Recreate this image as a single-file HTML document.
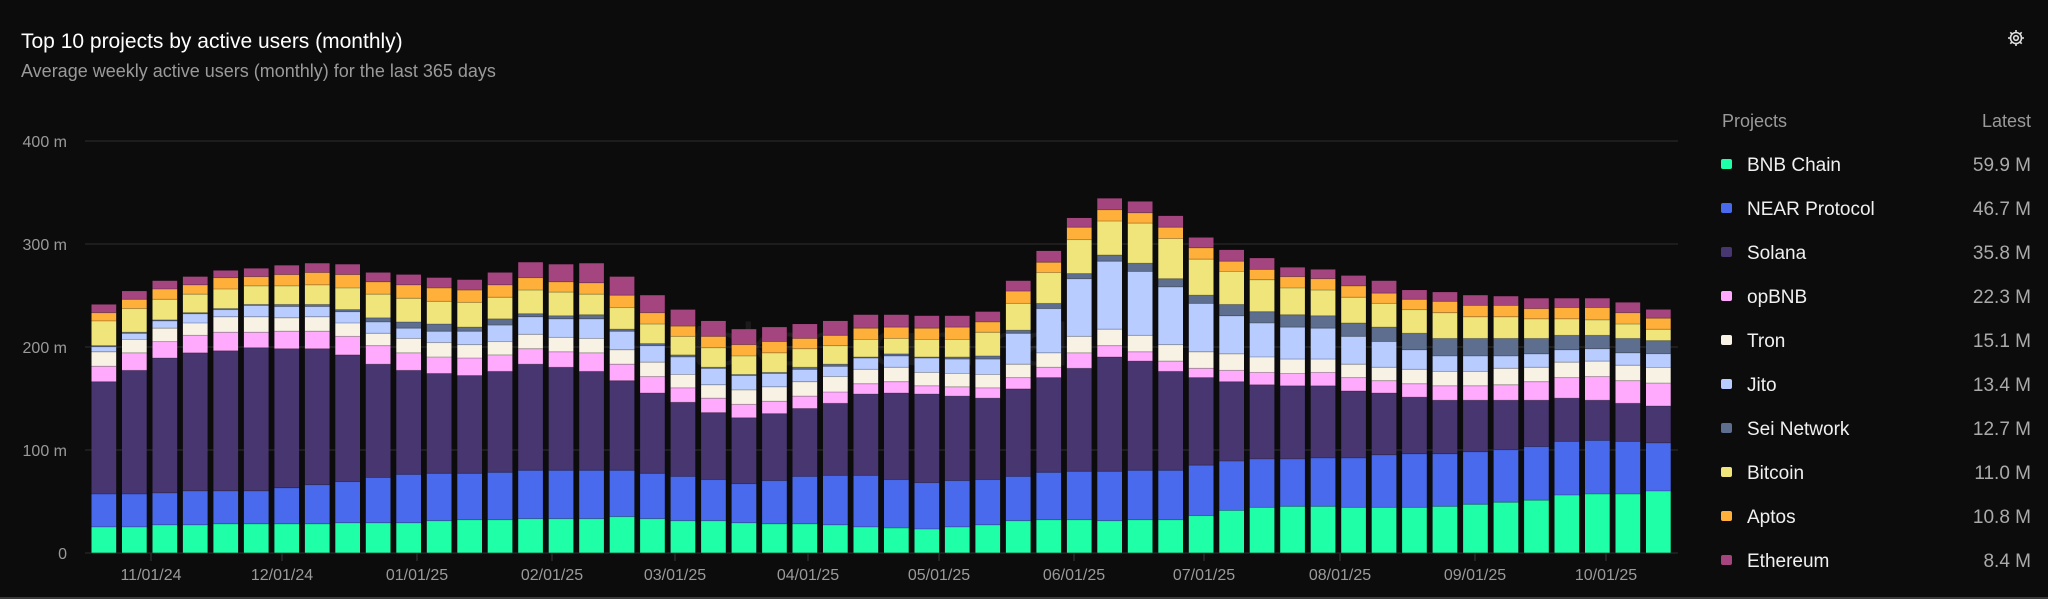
<!DOCTYPE html>
<html><head><meta charset="utf-8"><style>
html,body{margin:0;padding:0;background:#0c0c0c;width:2048px;height:599px;overflow:hidden;font-family:"Liberation Sans",sans-serif}
svg{position:absolute;left:0;top:0}
</style></head><body>
<svg id="s" width="2048" height="599" xmlns="http://www.w3.org/2000/svg">
<rect width="2048" height="599" fill="#0c0c0c"/>
<text x="21" y="48" font-size="21" fill="#ffffff" font-family="Liberation Sans, sans-serif">Top 10 projects by active users (monthly)</text>
<text x="21" y="77" font-size="18" fill="#9a9a9a" font-family="Liberation Sans, sans-serif">Average weekly active users (monthly) for the last 365 days</text>
<g id="grid" stroke="#232323" stroke-width="1.5">
<line x1="85" x2="1678" y1="141" y2="141"/><line x1="85" x2="1678" y1="244" y2="244"/><line x1="85" x2="1678" y1="347" y2="347"/><line x1="85" x2="1678" y1="450" y2="450"/><line x1="85" x2="1678" y1="553" y2="553"/>
</g>
<g font-size="16" fill="#9a9a9a" text-anchor="end" font-family="Liberation Sans, sans-serif">
<text x="67" y="147">400 m</text><text x="67" y="250">300 m</text><text x="67" y="353">200 m</text><text x="67" y="456">100 m</text><text x="67" y="559">0</text>
</g>
<text x="880" y="365" font-size="60" fill="#ffffff" opacity="0.06" text-anchor="middle" font-family="Liberation Sans, sans-serif">token terminal</text>
<g id="bars"></g>
<g stroke="#2a2a2a" stroke-width="1.5">
<line x1="151" x2="151" y1="553" y2="561"/><line x1="282" x2="282" y1="553" y2="561"/><line x1="417" x2="417" y1="553" y2="561"/><line x1="552" x2="552" y1="553" y2="561"/><line x1="675" x2="675" y1="553" y2="561"/><line x1="808" x2="808" y1="553" y2="561"/><line x1="939" x2="939" y1="553" y2="561"/><line x1="1074" x2="1074" y1="553" y2="561"/><line x1="1204" x2="1204" y1="553" y2="561"/><line x1="1340" x2="1340" y1="553" y2="561"/><line x1="1475" x2="1475" y1="553" y2="561"/><line x1="1606" x2="1606" y1="553" y2="561"/>
</g>
<g font-size="16" fill="#9a9a9a" text-anchor="middle" font-family="Liberation Sans, sans-serif">
<text x="151" y="580">11/01/24</text><text x="282" y="580">12/01/24</text><text x="417" y="580">01/01/25</text><text x="552" y="580">02/01/25</text><text x="675" y="580">03/01/25</text><text x="808" y="580">04/01/25</text><text x="939" y="580">05/01/25</text><text x="1074" y="580">06/01/25</text><text x="1204" y="580">07/01/25</text><text x="1340" y="580">08/01/25</text><text x="1475" y="580">09/01/25</text><text x="1606" y="580">10/01/25</text>
</g>
<g transform="translate(2016,38)" fill="none" stroke="#e0e0e0" stroke-width="1.6">
<circle r="5.5"/><circle r="2.3"/>
<path d="M0,-8V-5.5M0,8V5.5M-8,0H-5.5M8,0H5.5M-5.7,-5.7L-3.9,-3.9M5.7,5.7L3.9,3.9M-5.7,5.7L-3.9,3.9M5.7,-5.7L3.9,-3.9"/>
</g>
<g font-family="Liberation Sans, sans-serif" font-size="18">
<text x="1722" y="127" fill="#9a9a9a">Projects</text>
<text x="2031" y="127" fill="#9a9a9a" text-anchor="end">Latest</text>
</g>
<g font-family="Liberation Sans, sans-serif" font-size="19">
<rect x="1721" y="159" width="11" height="10" rx="2" fill="#1effa8"/><text x="1747" y="171" fill="#f0f0f0">BNB Chain</text><text x="2031" y="171" fill="#aaaaaa" text-anchor="end">59.9 M</text>
<rect x="1721" y="203" width="11" height="10" rx="2" fill="#4a6aee"/><text x="1747" y="215" fill="#f0f0f0">NEAR Protocol</text><text x="2031" y="215" fill="#aaaaaa" text-anchor="end">46.7 M</text>
<rect x="1721" y="247" width="11" height="10" rx="2" fill="#473670"/><text x="1747" y="259" fill="#f0f0f0">Solana</text><text x="2031" y="259" fill="#aaaaaa" text-anchor="end">35.8 M</text>
<rect x="1721" y="291" width="11" height="10" rx="2" fill="#ffaafc"/><text x="1747" y="303" fill="#f0f0f0">opBNB</text><text x="2031" y="303" fill="#aaaaaa" text-anchor="end">22.3 M</text>
<rect x="1721" y="335" width="11" height="10" rx="2" fill="#f8f2e4"/><text x="1747" y="347" fill="#f0f0f0">Tron</text><text x="2031" y="347" fill="#aaaaaa" text-anchor="end">15.1 M</text>
<rect x="1721" y="379" width="11" height="10" rx="2" fill="#b8ccff"/><text x="1747" y="391" fill="#f0f0f0">Jito</text><text x="2031" y="391" fill="#aaaaaa" text-anchor="end">13.4 M</text>
<rect x="1721" y="423" width="11" height="10" rx="2" fill="#5d6e8e"/><text x="1747" y="435" fill="#f0f0f0">Sei Network</text><text x="2031" y="435" fill="#aaaaaa" text-anchor="end">12.7 M</text>
<rect x="1721" y="467" width="11" height="10" rx="2" fill="#f0e57a"/><text x="1747" y="479" fill="#f0f0f0">Bitcoin</text><text x="2031" y="479" fill="#aaaaaa" text-anchor="end">11.0 M</text>
<rect x="1721" y="511" width="11" height="10" rx="2" fill="#ffb03b"/><text x="1747" y="523" fill="#f0f0f0">Aptos</text><text x="2031" y="523" fill="#aaaaaa" text-anchor="end">10.8 M</text>
<rect x="1721" y="555" width="11" height="10" rx="2" fill="#a5457f"/><text x="1747" y="567" fill="#f0f0f0">Ethereum</text><text x="2031" y="567" fill="#aaaaaa" text-anchor="end">8.4 M</text>
</g>
<rect x="0" y="597" width="2048" height="2" fill="#3a3a3a"/>
</svg>
<script>
var D=[
[25,57,166,181,195,200,201,225,233,241],[25,57,177,194,207,213,214,237,246,254],[27,58,189,205,218,225,226,246,256,264],[27,60,194,211,223,232,233,251,260,268],[28,60,196,214,229,236,237,256,267,274],
[28,60,199,214,229,240,241,259,268,276],[28,63,198,215,228,239,241,259,270,279],[28,66,198,215,229,239,241,260,272,281],[29,69,192,210,223,234,236,257,270,280],[29,73,183,201,213,224,228,251,263,272],
[29,76,177,194,208,218,224,247,260,270],[31,77,174,190,204,215,222,244,257,267],[32,77,172,189,202,215,219,243,255,265],[32,78,176,192,205,221,227,248,260,272],[33,80,183,198,212,229,232,255,267,282],
[33,80,180,195,209,227,230,253,263,280],[33,80,176,194,208,227,231,251,262,281],[35,80,167,183,197,215,217,238,250,268],[33,77,155,171,185,201,203,222,233,250],[31,74,146,160,173,190,192,210,220,236],
[31,71,136,150,163,179,180,199,210,225],[29,67,131,144,158,172,173,191,202,217],[28,70,135,147,161,174,175,194,205,219],[28,74,140,152,166,178,180,198,208,222],[27,75,145,156,171,181,183,201,211,225],
[25,75,154,164,178,189,190,207,218,231],[24,71,155,166,180,191,193,208,219,231],[23,68,154,162,175,189,190,207,218,230],[25,70,152,161,174,188,190,207,219,230],[27,71,150,160,173,188,191,214,224,234],
[31,74,159,170,183,213,216,242,254,264],[32,78,170,180,194,237,242,272,282,293],[32,79,179,194,210,266,271,304,316,325],[31,79,190,201,217,283,289,322,333,344],[32,80,186,195,211,273,281,320,330,341],
[32,80,176,186,202,258,266,305,316,327],[36,85,170,179,195,242,250,285,296,306],[41,89,166,177,193,230,241,273,283,294],[44,91,163,175,190,223,234,265,275,286],[45,91,162,174,188,219,231,257,268,277],
[45,92,162,175,188,218,230,255,266,275],[44,92,157,170,183,210,223,248,259,269],[44,95,155,167,180,205,219,242,252,264],[44,96,151,164,178,197,213,236,246,255],[45,96,148,162,176,191,208,233,244,253],
[47,98,148,162,176,191,208,229,240,250],[49,100,148,163,179,191,208,229,240,249],[51,103,148,166,180,193,208,227,237,247],[56,108,150,170,185,197,211,227,238,247],[57,109,148,171,186,198,211,226,238,247],
[57,108,145,167,182,194,208,222,233,243],[59.9,106.6,142.4,164.7,179.8,193.2,205.9,216.9,227.7,236.1]];
var C=["#1effa8","#4a6aee","#473670","#ffaafc","#f8f2e4","#b8ccff","#5d6e8e","#f0e57a","#ffb03b","#a5457f"];
var g=document.getElementById("bars"),h="";
for(var i=0;i<D.length;i++){var x=91.5+i*30.48,prev=0;
for(var j=0;j<10;j++){var v=D[i][j];if(v<prev)v=prev;var y1=552.7-v*1.03,y0=552.7-prev*1.03;
if(y0-y1>0.01)h+='<rect x="'+x.toFixed(1)+'" y="'+y1.toFixed(2)+'" width="24.7" height="'+(y0-y1).toFixed(2)+'" fill="'+C[j]+'"/>';
if(j>0)h+='<rect x="'+x.toFixed(1)+'" y="'+(y0-0.5).toFixed(2)+'" width="24.7" height="1" fill="#000" opacity="0.25"/>';
prev=v;}}
g.innerHTML=h;
</script>
</body></html>
